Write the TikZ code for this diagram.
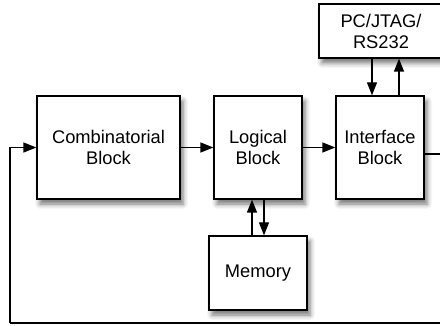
\documentclass[tikz,border=0pt]{standalone}
\usepackage{fontspec}
\setmainfont{Liberation Sans}
\usetikzlibrary{arrows.meta,shadows.blur}
\tikzset{
  block/.style={draw=black, line width=1.3pt, fill=white, align=center,
    font=\fontsize{18.3}{21}\selectfont,
    blur shadow={shadow xshift=3pt, shadow yshift=-5pt, shadow blur radius=5pt, shadow opacity=55}},
  link/.style={line width=1.3pt},
  arr/.style={link, -{Triangle[length=13pt,width=10pt]}}
}
\begin{document}
\begin{tikzpicture}[x=1pt,y=-1pt]
  \useasboundingbox (0,0) rectangle (440,326);
  \clip (0,0) rectangle (440,326);

  % functional blocks
  \node[block, minimum width=143pt, minimum height=103pt] (comb) at (108.5,147.5) {Combinatorial\\Block};
  \node[block, minimum width=88pt, minimum height=103pt] (log) at (258,147.5) {Logical\\Block};
  \node[block, minimum width=88pt, minimum height=103pt] (iface) at (380,147.5) {Interface\\Block};
  \node[block, minimum width=124pt, minimum height=54pt] (pc) at (381,31) {PC/JTAG/\\RS232};
  \node[block, minimum width=98pt, minimum height=74pt] (mem) at (258,273) {Memory};

  % helper points for the vertical links and the feedback loop
  \coordinate (pcdown) at (372,0);
  \coordinate (pcup) at (399,0);
  \coordinate (r1) at (450,154);
  \coordinate (r2) at (450,323);
  \coordinate (l1) at (10,323);

  % forward path
  \draw[arr] (comb.east) -- (log.west);
  \draw[arr] (log.east) -- (iface.west);

  % memory access
  \draw[arr] ([xshift=-6pt]mem.north) -- ([xshift=-6pt]log.south);
  \draw[arr] ([xshift=6pt]log.south) -- ([xshift=6pt]mem.north);

  % host interface
  \draw[arr] (pc.south -| pcdown) -- (iface.north -| pcdown);
  \draw[arr] (iface.north -| pcup) -- (pc.south -| pcup);

  % feedback loop
  \draw[link] (iface.east |- r1) -- (r1) -- (r2) -- (l1);
  \draw[arr] (l1) |- (comb.west);
\end{tikzpicture}
\end{document}
